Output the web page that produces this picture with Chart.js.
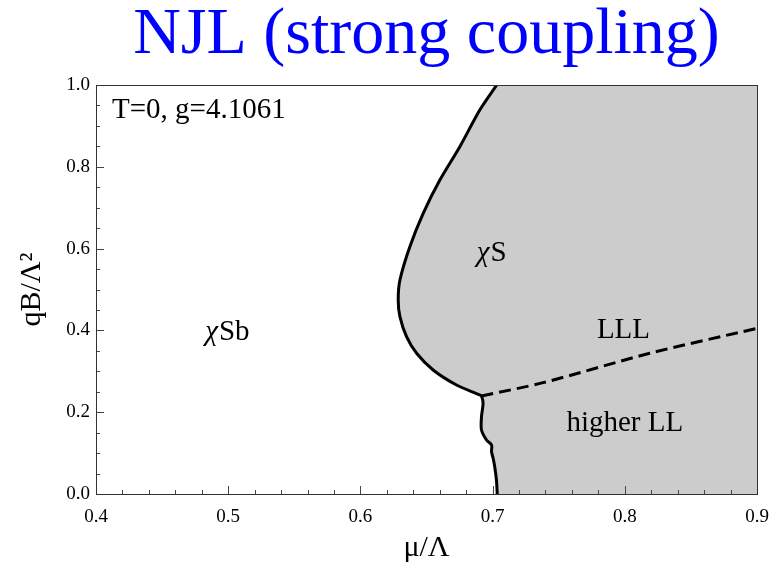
<!DOCTYPE html>
<html>
<head>
<meta charset="utf-8">
<script src="https://cdn.jsdelivr.net/npm/chart.js@4.4.1/dist/chart.umd.min.js"></script>
<style>
  html, body { margin: 0; padding: 0; background: #fff; }
</style>
</head>
<body>
<canvas id="chart" width="776" height="573"></canvas>
<script>
// chiral phase boundary, read bottom -> top
const boundaryMu = [0.7035, 0.7029, 0.7016, 0.7004, 0.6992, 0.6992, 0.6954, 0.6916, 0.6916, 0.6928, 0.6916,
    0.6903, 0.6727, 0.6550, 0.6425, 0.6349, 0.6299, 0.6286, 0.6299, 0.6374, 0.6475, 0.6601, 0.6752, 0.6903, 0.7031];
const boundaryQB = [0.0, 0.0342, 0.0667, 0.0873, 0.1034, 0.1198, 0.1320, 0.1565, 0.1890, 0.2218, 0.2396,
    0.2421, 0.2665, 0.3032, 0.3440, 0.3846, 0.4335, 0.4743, 0.5232, 0.6047, 0.6863, 0.7677, 0.8492, 0.9389, 1.0];

// LLL / higher LL border (dashed)
const lllMu = [0.6916, 0.7382, 0.8188, 0.9];
const lllQB = [0.2396, 0.2722, 0.3440, 0.405];

// ticks
const xTickValues = [0.4, 0.5, 0.6, 0.7, 0.8, 0.9];
const xTickLabels = ['0.4', '0.5', '0.6', '0.7', '0.8', '0.9'];
const yTickValues = [0.0, 0.2, 0.4, 0.6, 0.8, 1.0];
const yTickLabels = ['0.0', '0.2', '0.4', '0.6', '0.8', '1.0'];
const xMinorStep = 0.02;
const yMinorStep = 0.05;

// text inside the plot
const noteText = ['T=0, g=4.1061', 'χSb', 'χS', 'LLL', 'higher LL'];
const noteMu = [0.4121, 0.499, 0.699, 0.799, 0.800];
const noteQB = [0.939, 0.396, 0.589, 0.399, 0.172];
const noteAlign = ['left', 'center', 'center', 'center', 'center'];

Chart.defaults.font.family = "'Liberation Serif', 'Times New Roman', serif";
Chart.defaults.color = '#000';

const toPoints = (xs, ys) => xs.map((x, i) => ({ x: x, y: ys[i] }));

// gray region = everything right of the boundary
const shadeMu = boundaryMu.concat([0.9, 0.9]);
const shadeQB = boundaryQB.concat([1.0, 0.0]);

const serif = "'Liberation Serif', 'Times New Roman', serif";
const noteSize = 29;

const decor = {
    id: 'decor',
    afterDatasetsDraw(chart) {
        const { ctx, chartArea: a, scales: { x, y } } = chart;
        ctx.save();
        ctx.strokeStyle = '#444';
        ctx.lineWidth = 1;
        ctx.beginPath();
        // inward tick marks, bottom and left only
        for (let v = 0.4; v <= 0.9001; v += xMinorStep) {
            const px = Math.round(x.getPixelForValue(v)) + 0.5;
            const major = xTickValues.some(t => Math.abs(t - v) < 1e-6);
            ctx.moveTo(px, a.bottom);
            ctx.lineTo(px, a.bottom - (major ? 8 : 4));
        }
        for (let v = 0; v <= 1.0001; v += yMinorStep) {
            const py = Math.round(y.getPixelForValue(v)) + 0.5;
            const major = yTickValues.some(t => Math.abs(t - v) < 1e-6);
            ctx.moveTo(a.left, py);
            ctx.lineTo(a.left + (major ? 8 : 4), py);
        }
        ctx.stroke();
        ctx.strokeStyle = '#333';
        ctx.strokeRect(Math.round(a.left) + 0.5, Math.round(a.top) + 0.5,
            Math.round(a.right - a.left), Math.round(a.bottom - a.top));

        // labels
        ctx.fillStyle = '#000';
        ctx.textBaseline = 'middle';
        noteText.forEach((txt, i) => {
            const px = x.getPixelForValue(noteMu[i]);
            const py = y.getPixelForValue(noteQB[i]);
            let head = '', rest = txt;
            if (txt.startsWith('χ')) { head = 'χ'; rest = txt.slice(1); }
            ctx.font = 'italic ' + noteSize + 'px ' + serif;
            const hw = ctx.measureText(head).width;
            ctx.font = noteSize + 'px ' + serif;
            const rw = ctx.measureText(rest).width;
            let x0 = noteAlign[i] === 'left' ? px : px - (hw + rw) / 2;
            ctx.textAlign = 'left';
            if (head) {
                ctx.font = 'italic ' + noteSize + 'px ' + serif;
                ctx.fillText(head, x0, py);
            }
            ctx.font = noteSize + 'px ' + serif;
            ctx.fillText(rest, x0 + hw + (head ? 1 : 0), py);
        });
        ctx.restore();
    }
};

const ctx = document.getElementById('chart').getContext('2d');
const chart = new Chart(ctx, {
    type: 'scatter',
    data: {
        datasets: [{
            label: 'boundary',
            data: toPoints(boundaryMu, boundaryQB),
            showLine: true,
            borderColor: '#000',
            borderWidth: 3,
            tension: 0.3,
            pointRadius: 0,
            fill: false
        }, {
            label: 'LLL',
            data: toPoints(lllMu, lllQB),
            showLine: true,
            borderColor: '#000',
            borderWidth: 3,
            borderDash: [12, 6],
            tension: 0.3,
            pointRadius: 0,
            fill: false
        }, {
            label: 'shade',
            data: toPoints(shadeMu, shadeQB),
            showLine: true,
            borderWidth: 0,
            borderColor: 'rgba(0,0,0,0)',
            backgroundColor: '#cccccc',
            tension: 0,
            pointRadius: 0,
            fill: 'shape'
        }]
    },
    plugins: [decor],
    options: {
        responsive: false,
        animation: false,
        devicePixelRatio: 1,
        layout: {
            padding: { left: 0, right: 19, top: 0, bottom: 0 }
        },
        plugins: {
            legend: { display: false },
            tooltip: { enabled: false },
            title: {
                display: true,
                text: 'NJL (strong coupling)',
                color: '#0000ff',
                fullSize: false,
                font: { size: 66, weight: 'normal', lineHeight: 1.0 },
                padding: { top: 3, bottom: 16 }
            }
        },
        scales: {
            x: {
                type: 'linear',
                min: 0.4,
                max: 0.9,
                afterBuildTicks: (scale) => { scale.ticks = xTickValues.map(v => ({ value: v })); },
                afterFit: (scale) => {
                    scale.height = 79;
                    scale.paddingLeft = 0;
                    scale.paddingRight = 0;
                },
                grid: { display: false, drawTicks: false },
                border: { display: false },
                ticks: {
                    padding: 12,
                    font: { size: 19 },
                    callback: (v, i) => xTickLabels[i]
                },
                title: {
                    display: true,
                    text: 'μ/Λ',
                    font: { size: 30 },
                    padding: { top: 0, bottom: 7 }
                }
            },
            y: {
                type: 'linear',
                min: 0,
                max: 1,
                afterBuildTicks: (scale) => { scale.ticks = yTickValues.map(v => ({ value: v })); },
                afterFit: (scale) => {
                    scale.width = 96;
                    scale.paddingTop = 0;
                    scale.paddingBottom = 0;
                },
                grid: { display: false, drawTicks: false },
                border: { display: false },
                ticks: {
                    padding: 6,
                    font: { size: 19 },
                    callback: (v, i) => yTickLabels[i]
                },
                title: {
                    display: true,
                    text: 'qB/Λ²',
                    font: { size: 30 },
                    padding: { top: 14, bottom: 0 }
                }
            }
        }
    }
});
</script>
</body>
</html>
